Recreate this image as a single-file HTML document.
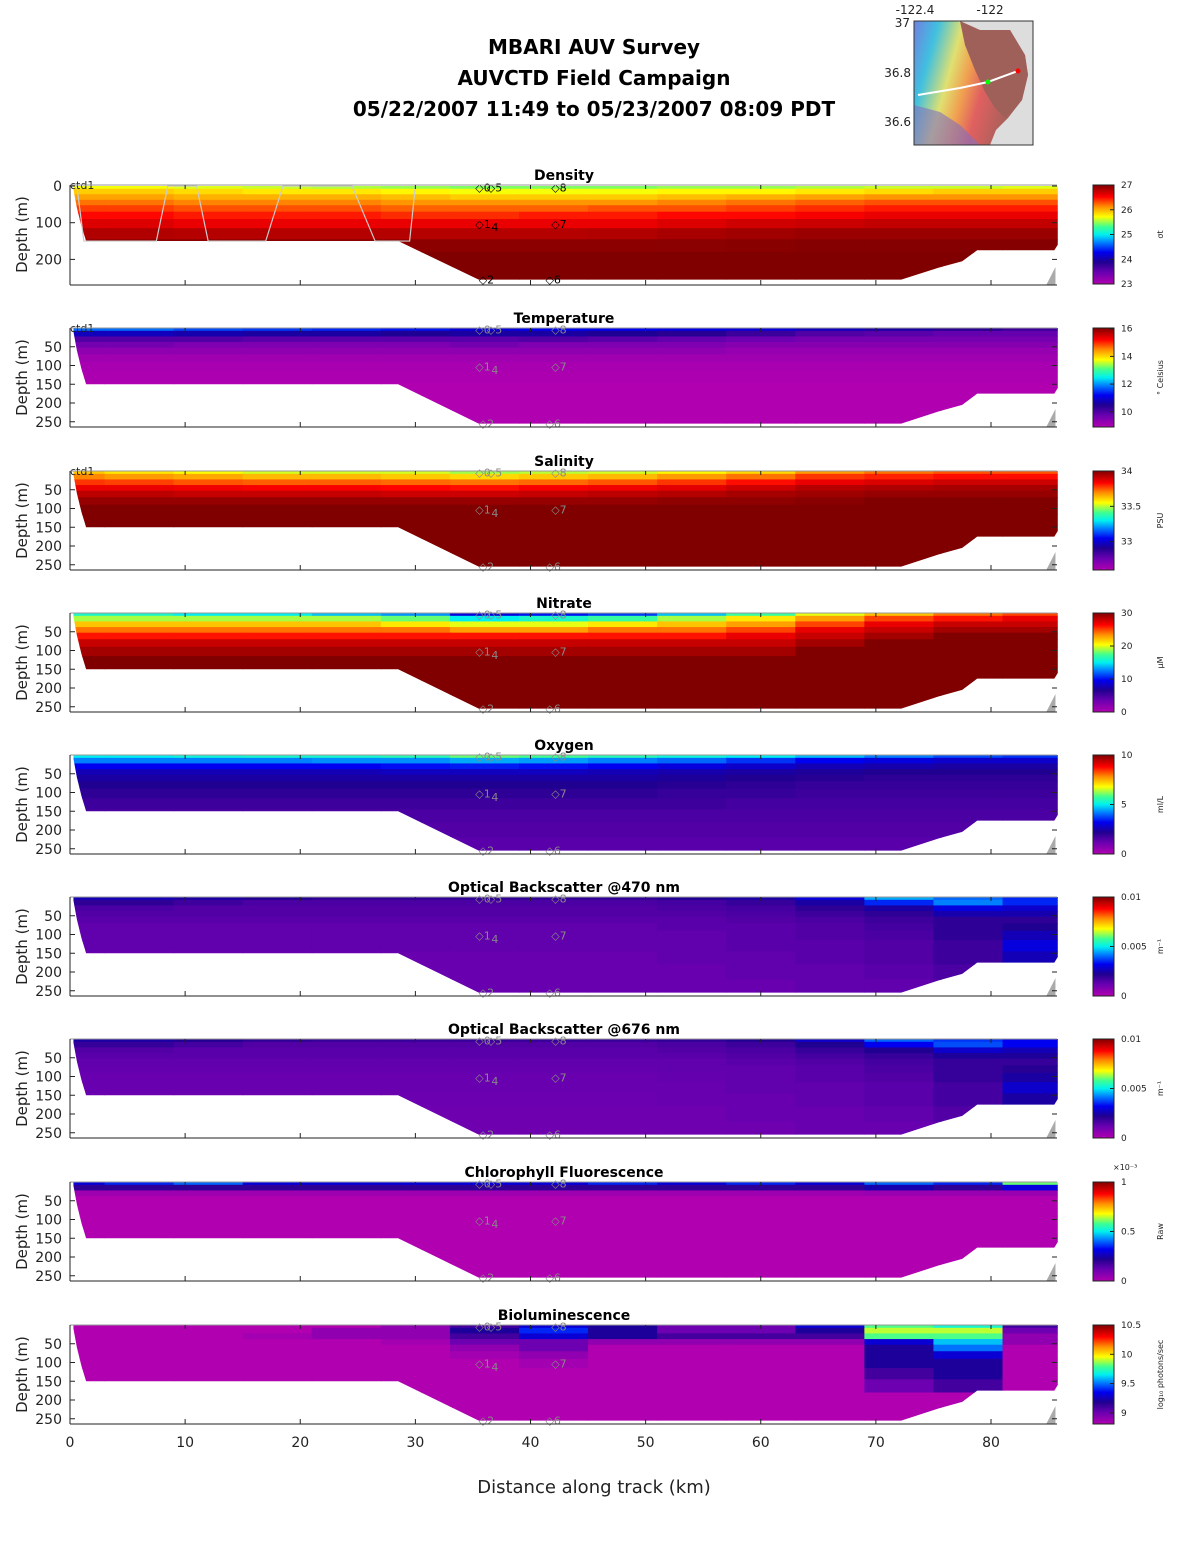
<!DOCTYPE html>
<html><head><meta charset="utf-8"><style>
body{margin:0;background:#fff;}
svg{display:block;font-family:"DejaVu Sans","Liberation Sans",sans-serif;}
</style></head><body>
<svg id="fig" width="1188" height="1548" viewBox="0 0 1188 1548" xmlns="http://www.w3.org/2000/svg">
<g font-weight="bold" font-size="20" text-anchor="middle" fill="#000">
<text x="594" y="54">MBARI AUV Survey</text>
<text x="594" y="85">AUVCTD Field Campaign</text>
<text x="594" y="116">05/22/2007 11:49  to 05/23/2007 08:09 PDT</text>
</g>
<g>
<defs>
<linearGradient id="mapg" x1="0" y1="0" x2="1" y2="0.3">
<stop offset="0" stop-color="#7080e0"/><stop offset="0.2" stop-color="#40c0e0"/><stop offset="0.4" stop-color="#e0e070"/><stop offset="0.55" stop-color="#f0a050"/><stop offset="0.7" stop-color="#e06060"/><stop offset="1" stop-color="#a0605a"/>
</linearGradient>
</defs>
<rect x="914" y="21" width="119" height="124" fill="#ddd"/>
<path d="M914 21 L957 21 L975 30 L1010 30 L1025 55 L1028 75 L1022 100 L1008 118 L996 130 L990 145 L914 145 Z" fill="url(#mapg)"/>
<path d="M960 21 L980 30 L1010 30 L1025 55 L1028 75 L1022 100 L1005 118 L995 108 L985 92 L975 70 L965 45 Z" fill="#a0605a"/>
<path d="M914 105 L940 112 L960 125 L980 145 L914 145 Z" fill="#8070c0" opacity="0.6"/>
<polyline points="918,95 960,88 988,82 1018,71" fill="none" stroke="#fff" stroke-width="2"/>
<circle cx="988" cy="82" r="2.5" fill="#0f0"/>
<circle cx="1018" cy="71" r="2.5" fill="#f00"/>
<rect x="914" y="21" width="119" height="124" fill="none" stroke="#333" stroke-width="1"/>
<g font-size="12" fill="#222">
<text x="915" y="14" text-anchor="middle">-122.4</text>
<text x="990" y="14" text-anchor="middle">-122</text>
<text x="910" y="27" text-anchor="end">37</text>
<text x="911" y="77" text-anchor="end">36.8</text>
<text x="911" y="126" text-anchor="end">36.6</text>
</g>
</g>
<g id="panels"></g>
<g id="xlabels" font-size="14" fill="#222" text-anchor="middle"></g>
<text x="594" y="1493" font-size="18" text-anchor="middle" fill="#222">Distance along track (km)</text>
</svg>
<script>
// ---- shared data ----
const cols = [0,6,12,18,24,30,36,42,48,54,60,66,72,78,84];
const rows = [0,15,30,45,60,80,100,130,160,200,240];
const bathDist = [0.3,0.6,1.0,1.4,28.5,35.5,36.5,72.2,75.5,77.5,78.8,85.5,85.8];
const bathDepth = [10,60,110,150,150,255,255,255,222,205,175,175,160];
const xTicks = [0,10,20,30,40,50,60,70,80];
const stationDist = [35.2,36.2,41.8,35.2,36.6,41.8,35.5,41.3];
const stationDepth = [4,4,4,103,112,103,255,255];
const stationLabel = ["◇0","◇5","◇8","◇1","4","◇7","◇2","◇6"];
const trackDist = [0.6,1.2,1.8,7.5,8.5,11,12,17,18.5,24.5,26.5,28.5,29.5,30];
const trackDepth = [0,150,150,150,0,0,150,150,0,0,150,150,150,0];

// per-panel values
const densityRows = [
[25.7,25.7,25.65,25.6,25.55,25.5,25.45,25.45,25.45,25.5,25.5,25.55,25.6,25.6,25.65],
[25.9,25.9,25.85,25.8,25.8,25.75,25.7,25.7,25.7,25.75,25.75,25.8,25.85,25.9,25.9],
[26.05,26.05,26.0,26.0,26.0,25.95,25.9,25.9,25.9,25.95,26.0,26.05,26.1,26.1,26.1],
[26.2,26.2,26.15,26.15,26.15,26.1,26.1,26.1,26.1,26.15,26.2,26.25,26.3,26.3,26.3],
[26.35,26.35,26.3,26.3,26.3,26.25,26.25,26.25,26.3,26.3,26.35,26.4,26.45,26.45,26.45],
[26.5,26.5,26.45,26.45,26.45,26.4,26.4,26.45,26.45,26.5,26.5,26.55,26.6,26.6,26.6],
[26.65,26.65,26.6,26.6,26.6,26.6,26.6,26.6,26.6,26.65,26.7,26.72,26.75,26.75,26.75],
[26.82,26.82,26.8,26.8,26.8,26.8,26.8,26.8,26.82,26.85,26.88,26.9,26.9,26.9,26.9],
[26.95,26.95,26.95,26.95,26.95,26.95,26.95,26.95,26.95,26.96,26.97,26.98,26.98,26.98,26.98],
[27,27,27,27,27,27,27,27,27,27,27,27,27,27,27],
[27,27,27,27,27,27,27,27,27,27,27,27,27,27,27]];
const temperatureRows = [
[11.8,11.8,11.6,11.5,11.4,11.3,11.0,11.2,11.2,11.1,11.0,10.8,10.6,10.4,10.2],
[10.8,10.8,10.7,10.6,10.6,10.5,10.6,10.6,10.5,10.4,10.2,10.0,9.9,9.8,9.8],
[10.0,10.0,10.0,9.9,9.9,9.9,9.9,10.0,9.9,9.8,9.7,9.6,9.6,9.6,9.6],
[9.6,9.6,9.5,9.5,9.5,9.5,9.6,9.5,9.5,9.5,9.4,9.4,9.4,9.4,9.4],
[9.3,9.3,9.3,9.3,9.3,9.3,9.3,9.3,9.3,9.3,9.2,9.2,9.2,9.2,9.2],
[9.1,9.1,9.1,9.1,9.1,9.1,9.1,9.1,9.1,9.1,9.1,9.1,9.1,9.1,9.1],
[9.0,9.0,9.0,9.0,9.0,9.0,9.0,9.0,9.0,9.0,9.0,9.0,9.0,9.0,9.0],
[8.95,8.95,8.95,8.95,8.95,8.95,8.95,8.95,8.95,8.95,8.95,8.95,8.95,8.95,8.95],
[8.9,8.9,8.9,8.9,8.9,8.9,8.9,8.9,8.9,8.9,8.9,8.9,8.9,8.9,8.9],
[8.9,8.9,8.9,8.9,8.9,8.9,8.9,8.9,8.9,8.9,8.9,8.9,8.9,8.9,8.9],
[8.9,8.9,8.9,8.9,8.9,8.9,8.9,8.9,8.9,8.9,8.9,8.9,8.9,8.9,8.9]];
const salinityRows = [
[33.62,33.58,33.55,33.52,33.52,33.52,33.48,33.5,33.52,33.56,33.6,33.68,33.72,33.75,33.75],
[33.7,33.68,33.66,33.64,33.64,33.62,33.6,33.62,33.64,33.68,33.72,33.78,33.8,33.82,33.82],
[33.78,33.77,33.75,33.74,33.74,33.73,33.72,33.73,33.75,33.78,33.82,33.86,33.88,33.9,33.9],
[33.86,33.86,33.85,33.84,33.84,33.83,33.82,33.84,33.85,33.87,33.9,33.93,33.94,33.95,33.95],
[33.92,33.92,33.91,33.91,33.91,33.9,33.9,33.91,33.92,33.93,33.95,33.96,33.97,33.97,33.97],
[33.97,33.97,33.97,33.97,33.97,33.97,33.97,33.97,33.97,33.98,33.98,33.99,34,34,34],
[34,34,34,34,34,34,34,34,34,34,34,34,34,34,34],
[34,34,34,34,34,34,34,34,34,34,34,34,34,34,34],
[34,34,34,34,34,34,34,34,34,34,34,34,34,34,34],
[34,34,34,34,34,34,34,34,34,34,34,34,34,34,34],
[34,34,34,34,34,34,34,34,34,34,34,34,34,34,34]];
const nitrateRows = [
[16,16,15,15,14,13,9,10,11,14,17,20,22,24,25],
[19,19,19,19,19,18,15,16,17,19,21,23,25,26,27],
[22,22,22,22,22,21,20,20,21,22,23,25,27,28,28],
[24,24,24,24,24,24,23,23,24,24,25,27,28,29,29],
[26,26,26,26,26,26,26,26,26,26,27,28,29,30,30],
[28,28,28,28,28,28,28,28,28,28,28,29,30,30,30],
[29,29,29,29,29,29,29,29,29,29,29,30,30,30,30],
[30,30,30,30,30,30,30,30,30,30,30,30,30,30,30],
[30,30,30,30,30,30,30,30,30,30,30,30,30,30,30],
[30,30,30,30,30,30,30,30,30,30,30,30,30,30,30],
[30,30,30,30,30,30,30,30,30,30,30,30,30,30,30]];
const oxygenRows = [
[5.0,5.0,5.2,5.3,5.3,5.5,6.0,5.8,5.5,5.2,5.0,4.6,4.2,3.8,3.6],
[4.2,4.2,4.2,4.2,4.3,4.3,4.5,4.4,4.2,4.0,3.6,3.2,3.0,2.8,2.8],
[3.2,3.2,3.2,3.2,3.2,3.3,3.4,3.3,3.2,3.0,2.8,2.6,2.5,2.4,2.4],
[2.6,2.6,2.6,2.6,2.6,2.7,2.7,2.7,2.6,2.5,2.4,2.3,2.2,2.2,2.2],
[2.4,2.4,2.4,2.4,2.4,2.4,2.4,2.4,2.4,2.3,2.2,2.1,2.0,2.0,2.0],
[2.2,2.2,2.2,2.2,2.2,2.2,2.2,2.2,2.2,2.1,2.0,1.9,1.9,1.9,1.9],
[2.0,2.0,2.0,2.0,2.0,2.0,2.0,2.0,2.0,1.9,1.9,1.8,1.8,1.8,1.8],
[1.8,1.8,1.8,1.8,1.8,1.8,1.8,1.8,1.8,1.8,1.7,1.7,1.7,1.7,1.7],
[1.6,1.6,1.6,1.6,1.6,1.6,1.6,1.6,1.6,1.6,1.6,1.6,1.6,1.6,1.6],
[1.5,1.5,1.5,1.5,1.5,1.5,1.5,1.5,1.5,1.5,1.5,1.5,1.5,1.5,1.5],
[1.4,1.4,1.4,1.4,1.4,1.4,1.4,1.4,1.4,1.4,1.4,1.4,1.4,1.4,1.4]];
const bb470Rows = [
[2.6,2.6,2.4,2.2,2.0,2.0,2.0,2.0,2.0,2.2,2.4,3.0,4.5,4.0,3.5],
[2.0,2.0,1.8,1.6,1.6,1.6,1.6,1.6,1.6,1.7,1.9,2.4,3.5,4.2,3.5],
[1.6,1.6,1.5,1.5,1.5,1.5,1.5,1.5,1.5,1.6,1.7,2.0,2.4,3.0,2.8],
[1.5,1.5,1.5,1.5,1.5,1.5,1.5,1.5,1.5,1.5,1.6,1.8,2.0,2.5,2.5],
[1.4,1.4,1.4,1.4,1.4,1.4,1.4,1.4,1.4,1.4,1.5,1.6,1.8,2.0,2.0],
[1.3,1.3,1.3,1.3,1.3,1.3,1.3,1.3,1.3,1.4,1.4,1.5,1.7,2.0,2.2],
[1.3,1.3,1.3,1.3,1.3,1.3,1.3,1.3,1.3,1.3,1.4,1.5,1.6,2.0,2.6],
[1.3,1.3,1.3,1.3,1.3,1.3,1.3,1.3,1.3,1.3,1.4,1.4,1.5,1.8,3.0],
[1.2,1.2,1.2,1.2,1.2,1.2,1.2,1.2,1.2,1.3,1.3,1.4,1.5,1.8,2.6],
[1.2,1.2,1.2,1.2,1.2,1.2,1.2,1.2,1.2,1.2,1.3,1.3,1.4,1.6,2.0],
[1.2,1.2,1.2,1.2,1.2,1.2,1.2,1.2,1.2,1.2,1.2,1.3,1.3,1.5,1.8]];
const bb676Rows = [
[2.4,2.4,2.2,2.0,1.9,1.9,1.9,1.9,1.9,2.0,2.2,2.8,4.0,3.6,3.2],
[1.9,1.9,1.7,1.5,1.5,1.5,1.5,1.5,1.5,1.6,1.8,2.2,3.2,3.8,3.2],
[1.5,1.5,1.4,1.4,1.4,1.4,1.4,1.4,1.4,1.5,1.6,1.9,2.2,2.8,2.6],
[1.4,1.4,1.4,1.4,1.4,1.4,1.4,1.4,1.4,1.4,1.5,1.7,1.9,2.3,2.3],
[1.3,1.3,1.3,1.3,1.3,1.3,1.3,1.3,1.3,1.3,1.4,1.5,1.7,1.9,1.9],
[1.25,1.25,1.25,1.25,1.25,1.25,1.25,1.25,1.25,1.3,1.3,1.4,1.6,1.9,2.1],
[1.2,1.2,1.2,1.2,1.2,1.2,1.2,1.2,1.2,1.25,1.3,1.4,1.5,1.9,2.4],
[1.2,1.2,1.2,1.2,1.2,1.2,1.2,1.2,1.2,1.2,1.3,1.3,1.4,1.7,2.8],
[1.15,1.15,1.15,1.15,1.15,1.15,1.15,1.15,1.15,1.2,1.2,1.3,1.4,1.7,2.4],
[1.1,1.1,1.1,1.1,1.1,1.1,1.1,1.1,1.1,1.1,1.2,1.2,1.3,1.5,1.9],
[1.1,1.1,1.1,1.1,1.1,1.1,1.1,1.1,1.1,1.1,1.1,1.2,1.2,1.4,1.7]];
const chlRows = [
[0.3,0.35,0.4,0.3,0.3,0.3,0.3,0.3,0.35,0.3,0.35,0.3,0.4,0.35,0.6],
[0.2,0.2,0.2,0.2,0.2,0.2,0.2,0.2,0.2,0.2,0.2,0.2,0.25,0.2,0.3],
[0.03,0.03,0.03,0.03,0.03,0.03,0.03,0.03,0.03,0.03,0.03,0.03,0.04,0.04,0.04],
[0,0,0,0,0,0,0,0,0,0,0,0,0,0,0],
[0,0,0,0,0,0,0,0,0,0,0,0,0,0,0],
[0,0,0,0,0,0,0,0,0,0,0,0,0,0,0],
[0,0,0,0,0,0,0,0,0,0,0,0,0,0,0],
[0,0,0,0,0,0,0,0,0,0,0,0,0,0,0],
[0,0,0,0,0,0,0,0,0,0,0,0,0,0,0],
[0,0,0,0,0,0,0,0,0,0,0,0,0,0,0],
[0,0,0,0,0,0,0,0,0,0,0,0,0,0,0]];
const bioRows = [
[8.8,8.8,8.8,8.8,8.8,8.9,9.1,9.3,9.2,9.0,9.0,9.3,9.8,9.7,9.1],
[8.8,8.8,8.8,8.8,8.9,8.9,9.2,9.4,9.2,9.0,9.0,9.2,9.9,9.9,9.0],
[8.8,8.8,8.8,8.85,8.9,8.9,9.1,9.3,9.2,9.1,9.1,9.1,9.8,9.8,8.9],
[8.8,8.8,8.8,8.8,8.8,8.85,9.0,9.0,8.9,8.9,8.9,8.9,9.3,9.6,8.9],
[8.8,8.8,8.8,8.8,8.8,8.8,8.9,9.0,8.8,8.8,8.8,8.8,9.2,9.5,8.8],
[8.8,8.8,8.8,8.8,8.8,8.8,8.85,8.9,8.8,8.8,8.8,8.8,9.2,9.3,8.8],
[8.8,8.8,8.8,8.8,8.8,8.8,8.8,8.85,8.8,8.8,8.8,8.8,9.2,9.2,8.8],
[8.8,8.8,8.8,8.8,8.8,8.8,8.8,8.8,8.8,8.8,8.8,8.8,9.1,9.2,8.8],
[8.8,8.8,8.8,8.8,8.8,8.8,8.8,8.8,8.8,8.8,8.8,8.8,9.0,9.1,8.8],
[8.8,8.8,8.8,8.8,8.8,8.8,8.8,8.8,8.8,8.8,8.8,8.8,8.8,8.8,8.8],
[8.8,8.8,8.8,8.8,8.8,8.8,8.8,8.8,8.8,8.8,8.8,8.8,8.8,8.8,8.8]];

const panelTitles = ["Density","Temperature","Salinity","Nitrate","Oxygen","Optical Backscatter @470 nm","Optical Backscatter @676 nm","Chlorophyll Fluorescence","Bioluminescence"];
const panelKeys = ["density","temperature","salinity","nitrate","oxygen","backscatter-470","backscatter-676","chlorophyll","bioluminescence"];
const panelData = [densityRows,temperatureRows,salinityRows,nitrateRows,oxygenRows,bb470Rows,bb676Rows,chlRows,bioRows];
const panelMin = [23,8.9,32.6,0,0,0,0,0,8.81];
const panelMax = [27,16.05,34,30,10,10,10,1,10.5];
const cbTicks = [[23,24,25,26,27],[10,12,14,16],[33,33.5,34],[0,10,20,30],[0,5,10],[0,5,10],[0,5,10],[0,0.5,1],[9,9.5,10,10.5]];
const cbTickLabels = [["23","24","25","26","27"],["10","12","14","16"],["33","33.5","34"],["0","10","20","30"],["0","5","10"],["0","0.005","0.01"],["0","0.005","0.01"],["0","0.5","1"],["9","9.5","10","10.5"]];
const units = ["σt","° Celsius","PSU","μM","ml/L","m⁻¹","m⁻¹","Raw","log₁₀ photons/sec"];

// ---- layout ----
const NS="http://www.w3.org/2000/svg";
const X0=70, KPX=(991-70)/80;
const panelTop=[185,328,471,613,755,897,1039,1182,1325];
const PH=99;
const xs = d => X0 + d*KPX;
const stops=[[0,[176,0,176]],[0.12,[104,0,176]],[0.22,[32,0,144]],[0.32,[0,0,240]],[0.42,[0,128,255]],[0.5,[0,240,240]],[0.58,[64,255,144]],[0.68,[255,255,0]],[0.78,[255,144,0]],[0.88,[255,0,0]],[1,[128,0,0]]];
function cmap(t){t=Math.max(0,Math.min(1,t));for(let i=1;i<stops.length;i++){if(t<=stops[i][0]){const a=stops[i-1],b=stops[i],f=(t-a[0])/(b[0]-a[0]);return 'rgb('+a[1].map((v,k)=>Math.round(v+(b[1][k]-v)*f)).join(',')+')';}}return 'rgb(128,0,0)';}
function mk(tag,attrs,parent){const e=document.createElementNS(NS,tag);for(const k in attrs)e.setAttribute(k,attrs[k]);parent.appendChild(e);return e;}
const root=document.getElementById('panels');

panelData.forEach((data,p)=>{
  const top=panelTop[p];
  const isD = p===0;
  const y0 = isD?186:top;
  const k = isD?0.367:0.375;
  const ys = z => y0 + z*k;
  const bottom = top+PH+(isD?1:0);
  const g=mk('g',{},root);
  
  
  const cp=mk('clipPath',{id:'clip'+p},g);
  let pts=[[xs(bathDist[0]),ys(0)],[xs(bathDist[bathDist.length-1]),ys(0)]];
  for(let i=bathDist.length-1;i>=0;i--) pts.push([xs(bathDist[i]),ys(bathDepth[i])]);
  mk('polygon',{points:pts.map(q=>q.join(',')).join(' ')},cp);
  const cells=mk('g',{'clip-path':'url(#clip'+p+')'},g);
  
  
  const range=panelMax[p]-panelMin[p];
  for(let r=0;r<rows.length;r++){
    const za = r===0?0:(rows[r-1]+rows[r])/2;
    const zb = r===rows.length-1?270:(rows[r]+rows[r+1])/2;
    for(let c=0;c<cols.length;c++){
      const da = c===0?0:(cols[c-1]+cols[c])/2;
      const db = c===cols.length-1?86:(cols[c]+cols[c+1])/2;
      const rc=mk('rect',{x:xs(da),y:ys(za),width:xs(db)-xs(da)+0.6,height:ys(zb)-ys(za)+0.6,fill:cmap((data[r][c]-panelMin[p])/range)},cells);
      
      
    }
  }
  if(isD){
    const tr=mk('polyline',{points:trackDist.map((d,i)=>xs(d)+','+ys(trackDepth[i])).join(' '),fill:'none',stroke:'#ccc','stroke-width':1.2},g);
    
    
  }
  const tri=mk('polygon',{points:`${xs(84.8)},${bottom} ${xs(85.6)},${bottom-18} ${xs(85.6)},${bottom}`,fill:'#aaa'},g);
  
  
  stationDist.forEach((d,i)=>{
    const t=mk('text',{x:xs(d),y:ys(stationDepth[i])+4,'font-size':11,fill:isD?'#000':'#888'},g);
    t.textContent=stationLabel[i];
    
    
  });
  if(p<3){const t=mk('text',{x:70,y:top+4,'font-size':11,fill:'#222'},g);t.textContent='ctd1';
    
    }
  const ax=mk('g',{stroke:'#222','stroke-width':1},g);
  
  
  mk('line',{x1:X0,y1:top,x2:X0,y2:bottom},ax);
  mk('line',{x1:X0,y1:bottom,x2:1057,y2:bottom},ax);
  mk('line',{x1:X0,y1:top,x2:1057,y2:top,stroke:'#999'},ax);
  xTicks.forEach(v=>{mk('line',{x1:xs(v),y1:bottom,x2:xs(v),y2:bottom-5},ax);mk('line',{x1:xs(v),y1:top,x2:xs(v),y2:top+4},ax);});
  const yt = isD?[0,100,200]:[50,100,150,200,250];
  yt.forEach(v=>{
    mk('line',{x1:X0,y1:ys(v),x2:X0+5,y2:ys(v)},ax);
    mk('line',{x1:1057,y1:ys(v),x2:1052,y2:ys(v)},ax);
    const t=mk('text',{x:62,y:ys(v)+5,'font-size':14,'text-anchor':'end',fill:'#222',stroke:'none'},g);
    t.textContent=v;
    
    
  });
  const yl=mk('text',{x:0,y:0,'font-size':15,'text-anchor':'middle',fill:'#222',transform:`translate(27,${top+PH/2}) rotate(-90)`},g);
  yl.textContent='Depth (m)';
  
  
  const tt=mk('text',{x:564,y:top-5,'font-size':14,'font-weight':'bold','text-anchor':'middle',fill:'#000'},g);
  tt.textContent=panelTitles[p];
  
  
  const cb=mk('g',{},g);
  
  
  const gid='cbg'+p;
  const lg=mk('linearGradient',{id:gid,x1:0,y1:1,x2:0,y2:0},cb);
  stops.forEach(s=>mk('stop',{offset:s[0],'stop-color':cmap(s[0])},lg));
  const cy0=top, ch=PH;
  mk('rect',{x:1093,y:cy0,width:21,height:ch,fill:`url(#${gid})`,stroke:'#222','stroke-width':1},cb);
  cbTicks[p].forEach((v,i)=>{
    const y=cy0+ch-(v-panelMin[p])/range*ch;
    mk('line',{x1:1114,y1:y,x2:1110,y2:y,stroke:'#222'},cb);
    const t=mk('text',{x:1121,y:y+3,'font-size':9,fill:'#222'},cb);
    t.textContent=cbTickLabels[p][i];
    
    
  });
  const u=mk('text',{x:0,y:0,'font-size':8,'text-anchor':'middle',fill:'#222',transform:`translate(1163,${top+PH/2}) rotate(-90)`},cb);
  u.textContent=units[p];
  
  
  if(p===7){const t=mk('text',{x:1113,y:top-12,'font-size':8,fill:'#222'},cb);t.textContent='×10⁻³';
    
    }
});
const xl=document.getElementById('xlabels');
xTicks.forEach(v=>{const t=mk('text',{x:xs(v),y:1447},xl);t.textContent=v;
  
  });
</script>
</body></html>
